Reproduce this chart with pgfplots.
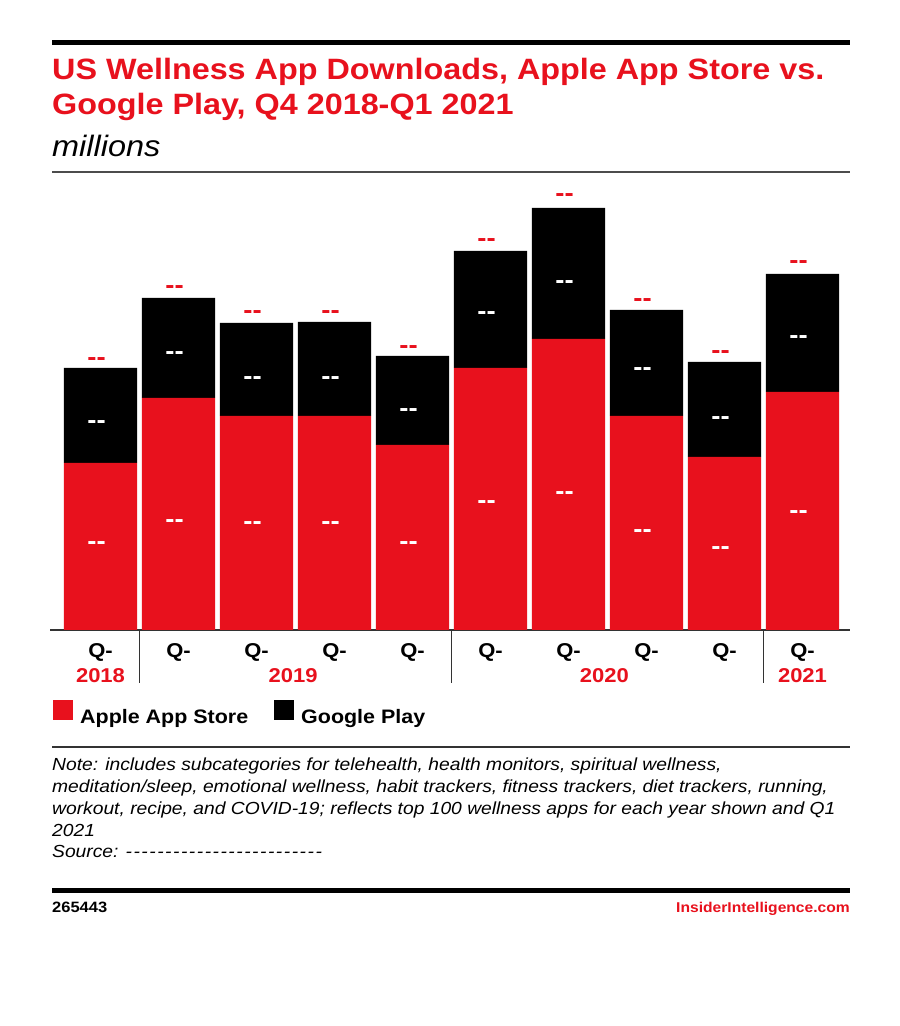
\documentclass[border=0pt]{standalone}
\usepackage{pgfplots}
\pgfplotsset{compat=1.18}
\usepackage{fontspec}
\setmainfont{Liberation Sans}[FakeStretch=1.1]
\definecolor{eRed}{RGB}{232,17,29}
\pgfplotsset{sqlegend/.style={legend image code/.code={\fill[##1] (0pt,-3pt) rectangle (20pt,17pt);}}}
\newcommand\dfont{\fontsize{25}{25}\selectfont\bfseries}
% label positions (axis units) inside red segment, inside black segment, above bar
\newcommand\barlab[4]{%
  \coordinate (la#1) at (axis cs:-0.05+#1,#2);
  \coordinate (lb#1) at (axis cs:-0.05+#1,#3);
  \coordinate (lc#1) at (axis cs:-0.05+#1,#4);}
\begin{document}
\begin{tikzpicture}
\fill[white] (0,0) rectangle (900pt,1026pt);
\useasboundingbox (0,0) rectangle (900pt,1026pt);
% header
\fill[black] (52pt,981pt) rectangle (850pt,985.5pt);
\node[anchor=base west,inner sep=0pt,text=eRed,font=\fontsize{29.4}{35}\selectfont\bfseries] at (52pt,946pt) {US Wellness App Downloads, Apple App Store vs.};
\node[anchor=base west,inner sep=0pt,text=eRed,font=\fontsize{29.4}{35}\selectfont\bfseries] at (52pt,911pt) {Google Play, Q4 2018-Q1 2021};
\node[anchor=base west,inner sep=0pt,font=\fontsize{29.5}{32}\selectfont\itshape] at (52pt,869pt) {millions};
\draw[line width=1.5pt,black!70] (52pt,854pt) -- (850pt,854pt);

\begin{axis}[
  at={(50pt,396pt)}, anchor=south west,
  scale only axis, width=800pt, height=450pt,
  xmin=-0.6474, xmax=9.609, ymin=0, ymax=450,
  enlargelimits=false, clip=false,
  ybar stacked, bar width=0.936,
  axis x line*=bottom, axis y line=none,
  x axis line style={-, line width=1.5pt, black!80},
  xtick={0,...,9},
  xticklabels={Q-,Q-,Q-,Q-,Q-,Q-,Q-,Q-,Q-,Q-},
  major tick length=0pt,
  xticklabel style={anchor=base, yshift=-28pt, font=\fontsize{20}{22}\selectfont\bfseries},
  legend style={at={(0,-0.150)}, anchor=north west, draw=none, fill=none,
    legend columns=2, font=\fontsize{19.5}{24}\selectfont\bfseries,
    /tikz/every odd column/.append style={column sep=5pt},
    /tikz/every even column/.append style={column sep=24pt}},
]
\addplot[fill=eRed, draw=none, sqlegend] coordinates {(0,167) (1,232) (2,214) (3,214) (4,185) (5,262) (6,291) (7,214) (8,173) (9,238)};
\addplot[fill=black, draw=none, sqlegend] coordinates {(0,95) (1,100) (2,93) (3,94) (4,89) (5,117) (6,131) (7,106) (8,95) (9,118)};
\legend{Apple App Store, Google Play}
\barlab{0}{84.5}{205.5}{268.5}
\barlab{1}{106.8}{274.8}{340.5}
\barlab{2}{104.8}{249.5}{315.5}
\barlab{3}{104.8}{249.5}{315.5}
\barlab{4}{84.5}{217.2}{280.5}
\barlab{5}{125.2}{314.5}{387.5}
\barlab{6}{134.8}{345.5}{432.2}
\barlab{7}{96.2}{258.8}{327.5}
\barlab{8}{79.2}{209.5}{275.2}
\barlab{9}{115.5}{290.8}{365.2}
\draw[line width=1.2pt,black!80] (axis cs:0.5,0) -- (axis cs:0.5,-53);
\draw[line width=1.2pt,black!80] (axis cs:4.5,0) -- (axis cs:4.5,-53);
\draw[line width=1.2pt,black!80] (axis cs:8.5,0) -- (axis cs:8.5,-53);
\node[anchor=base,inner sep=0pt,text=eRed,font=\fontsize{20}{22}\selectfont\bfseries] at (axis cs:0,-53) {2018};
\node[anchor=base,inner sep=0pt,text=eRed,font=\fontsize{20}{22}\selectfont\bfseries] at (axis cs:2.47,-53) {2019};
\node[anchor=base,inner sep=0pt,text=eRed,font=\fontsize{20}{22}\selectfont\bfseries] at (axis cs:6.46,-53) {2020};
\node[anchor=base,inner sep=0pt,text=eRed,font=\fontsize{20}{22}\selectfont\bfseries] at (axis cs:9,-53) {2021};
\end{axis}
\foreach \i in {0,...,9}{
  \node[text=white,font=\dfont,inner sep=0pt] at (la\i) {-{}-};
  \node[text=white,font=\dfont,inner sep=0pt] at (lb\i) {-{}-};
  \node[text=eRed,font=\dfont,inner sep=0pt] at (lc\i) {-{}-};
}

% notes
\draw[line width=1.5pt,black!80] (52pt,279pt) -- (850pt,279pt);
\begin{scope}[every node/.style={anchor=base west,inner sep=0pt,font=\fontsize{17.5}{21}\selectfont\itshape}]
\node at (52pt,255pt) {Note: includes subcategories for telehealth, health monitors, spiritual wellness,};
\node at (52pt,233pt) {meditation/sleep, emotional wellness, habit trackers, fitness trackers, diet trackers, running,};
\node at (52pt,211pt) {workout, recipe, and COVID-19; reflects top 100 wellness apps for each year shown and Q1};
\node at (52pt,189pt) {2021};
\node at (52pt,168pt) {Source: \foreach \k in {1,...,25}{-\kern1.5pt}};
\end{scope}
\fill[black] (52pt,132.5pt) rectangle (850pt,137.5pt);
\node[anchor=base west,inner sep=0pt,font=\fontsize{15}{18}\selectfont\bfseries] at (52pt,113pt) {265443};
\node[anchor=base east,inner sep=0pt,text=eRed,font=\fontsize{14.2}{18}\selectfont\bfseries] at (850pt,113pt) {InsiderIntelligence.com};
\end{tikzpicture}
\end{document}
